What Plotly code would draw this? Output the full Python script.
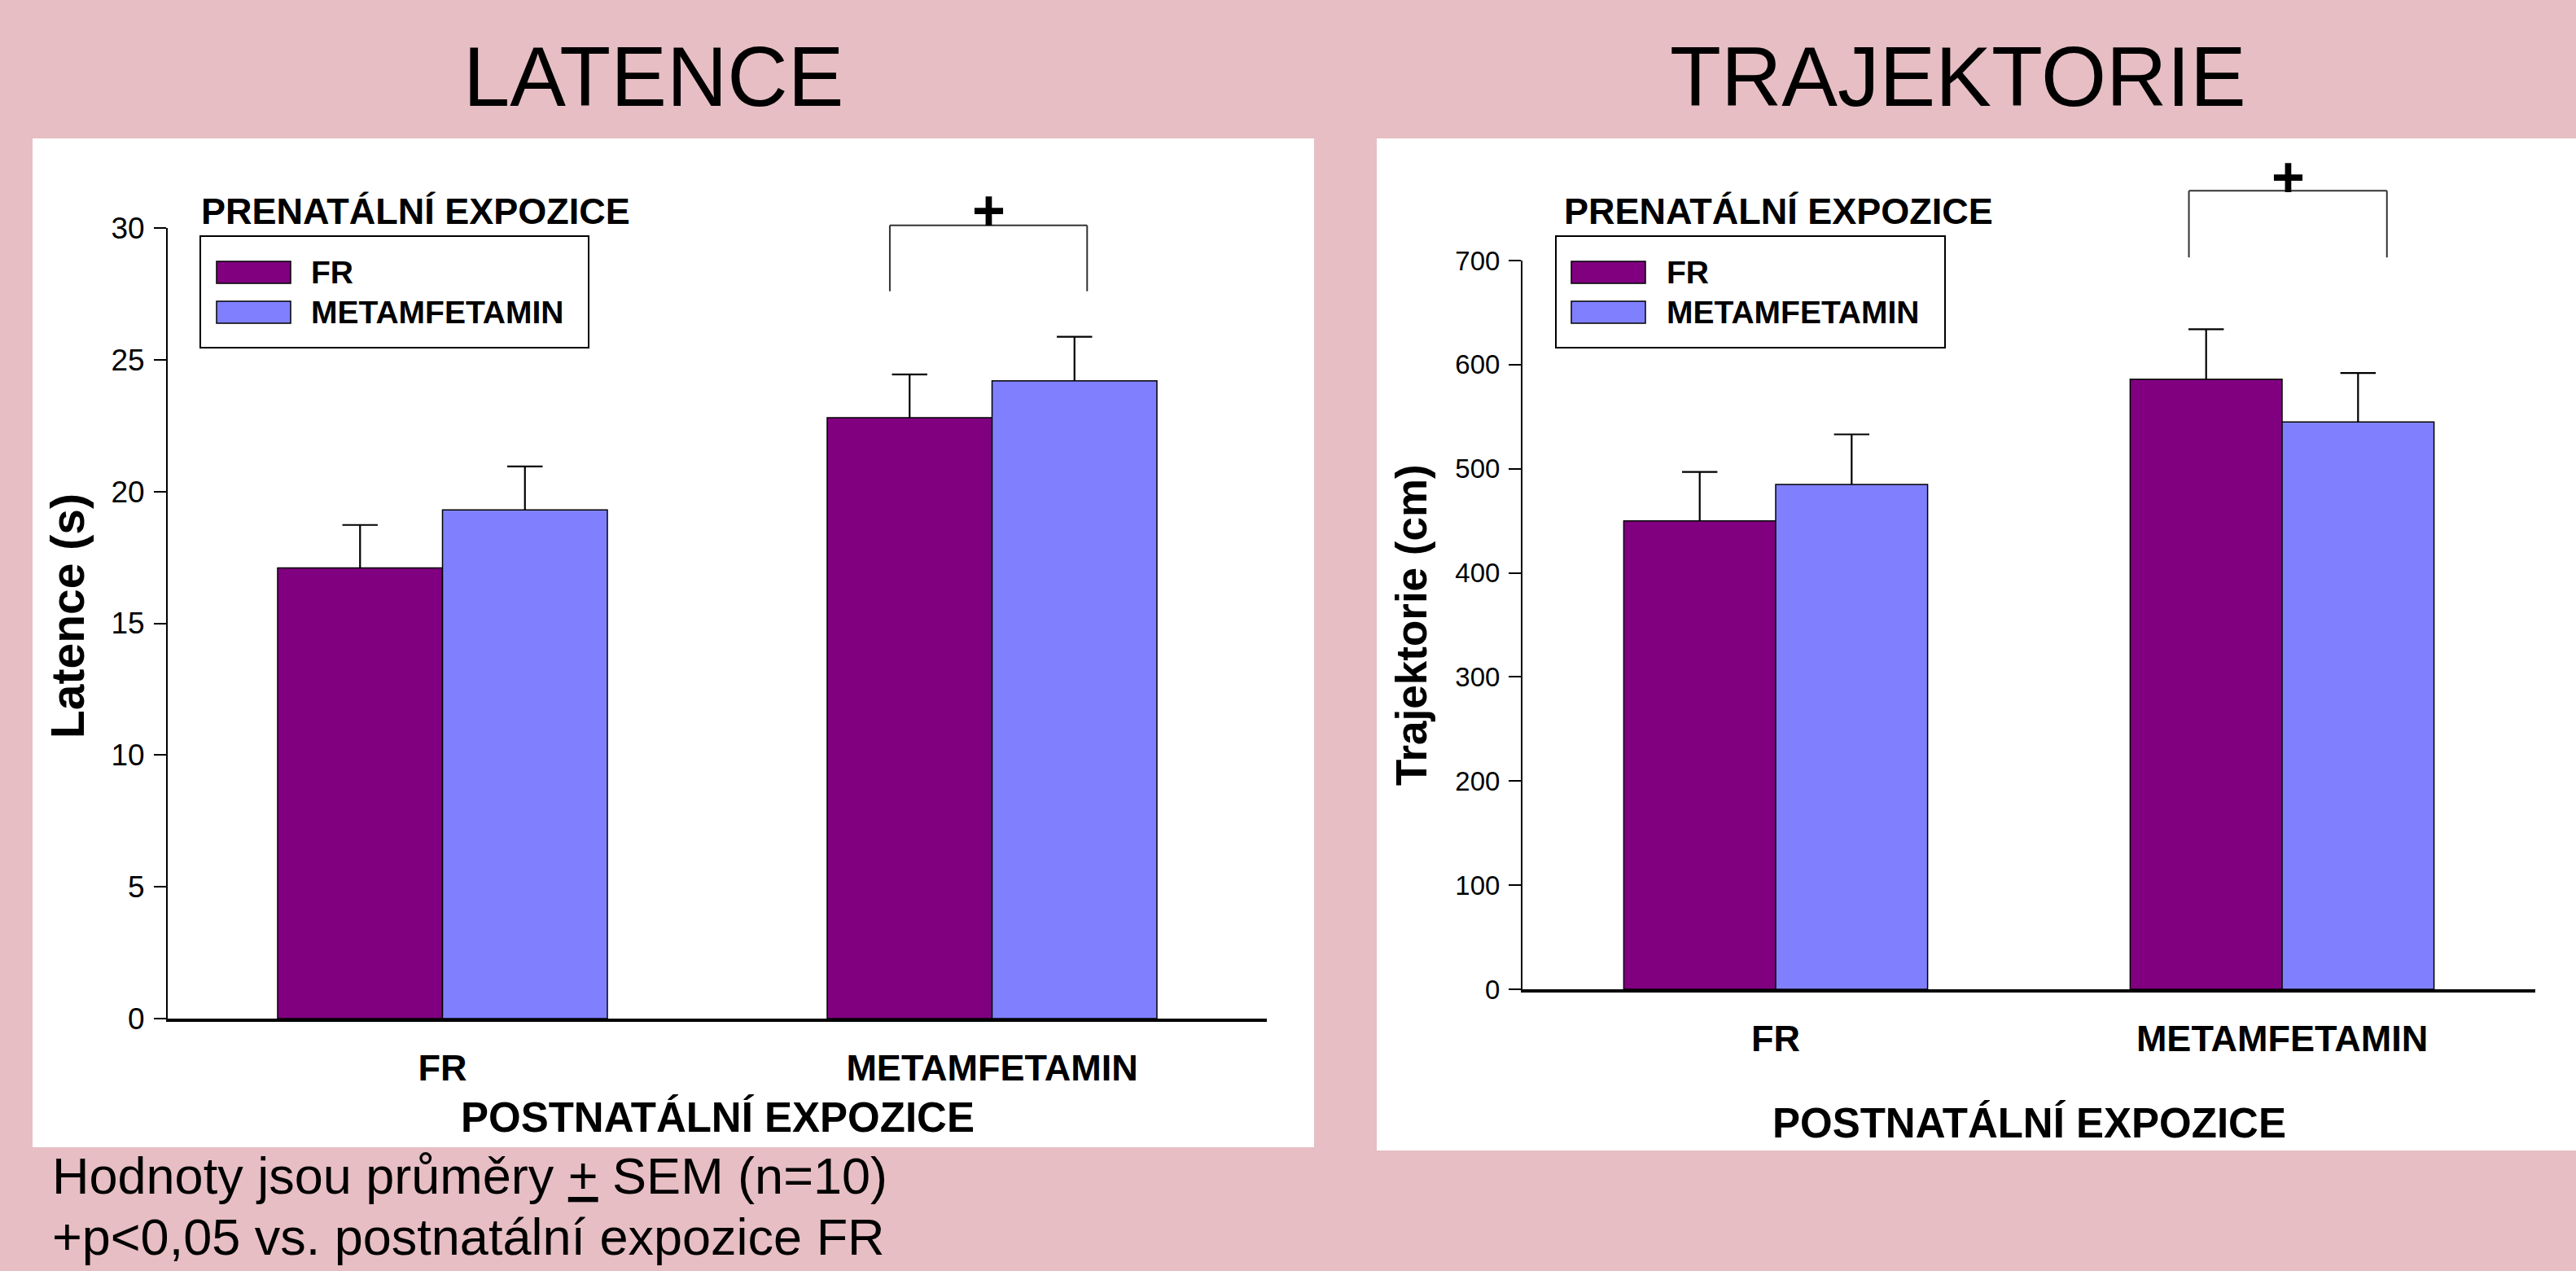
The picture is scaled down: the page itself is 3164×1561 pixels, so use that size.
import plotly.graph_objects as go

# ---------------- data ----------------
categories = ["FR", "METAMFETAMIN"]          # postnatální expozice (x)
series_names = ["FR", "METAMFETAMIN"]        # prenatální expozice (legend)

lat_fr = [17.1, 22.8]
lat_fr_sem = [1.63, 1.64]
lat_met = [19.3, 24.2]
lat_met_sem = [1.65, 1.67]

traj_fr = [450, 586]
traj_fr_sem = [47, 48]
traj_met = [485, 545]
traj_met_sem = [48, 47]

lat_ticks = [0, 5, 10, 15, 20, 25, 30]
traj_ticks = [0, 100, 200, 300, 400, 500, 600, 700]

# significance brackets (x in category units, y = leg bottom / top)
lat_bracket_x = [0.814, 1.173]
lat_bracket_y = [27.6, 30.1]
traj_bracket_x = [0.816, 1.207]
traj_bracket_y = [703, 767]

# ---------------- style ----------------
W, H = 3164, 1561
BG = "#E6BEC3"
C_FR = "#800080"
C_MET = "#8080FF"
FONT = "Liberation Sans, Arial, sans-serif"
XR = [-0.5, 1.5]
LAT_R = [0, 30]
TRAJ_R = [0, 700]
BARGAP = 0.4
HALF = (1 - BARGAP) / 4   # offset of each bar centre from the category centre


def fx(p):
    return p / W


def fy(p):
    return 1 - p / H


fig = go.Figure()

err = dict(type="data", symmetric=False, color="black", thickness=2.2, width=0)
pos = [0, 1]


def add_group(vals, sems, color, name, side, xa, ya):
    fig.add_trace(go.Bar(x=pos, y=vals, name=name, marker=dict(color=color, line=dict(color="black", width=1.5)),
                         error_y=dict(err, array=sems, arrayminus=[0] * len(sems)), xaxis=xa, yaxis=ya,
                         showlegend=False, hoverinfo="skip"))
    # error-bar caps (top only)
    fig.add_trace(go.Scatter(x=[p + side * HALF for p in pos], y=[v + s for v, s in zip(vals, sems)],
                             mode="markers", xaxis=xa, yaxis=ya, showlegend=False, hoverinfo="skip",
                             cliponaxis=False,
                             marker=dict(symbol="line-ew", size=31, line=dict(color="black", width=2.2))))


add_group(lat_fr, lat_fr_sem, C_FR, series_names[0], -1, "x", "y")
add_group(lat_met, lat_met_sem, C_MET, series_names[1], 1, "x", "y")
add_group(traj_fr, traj_fr_sem, C_FR, series_names[0], -1, "x2", "y2")
add_group(traj_met, traj_met_sem, C_MET, series_names[1], 1, "x2", "y2")

xcommon = dict(range=XR, tickvals=pos, ticktext=categories, showline=True, linewidth=4, linecolor="black",
               ticks="", showgrid=False, zeroline=False, fixedrange=True, automargin=False,
               tickfont=dict(family=FONT, size=45, color="black", weight="bold"), ticklabelstandoff=18)
ycommon = dict(showline=True, linewidth=2, linecolor="black", ticks="outside", ticklen=15, tickwidth=2,
               tickcolor="black", showgrid=False, zeroline=False, fixedrange=True, automargin=False)

fig.update_layout(
    template="none",
    width=W, height=H, autosize=False,
    margin=dict(l=0, r=0, t=0, b=0, pad=0, autoexpand=False),
    paper_bgcolor=BG, plot_bgcolor="white",
    barmode="group", bargap=BARGAP, bargroupgap=0,
    showlegend=False,
    font=dict(family=FONT, color="black"),
    xaxis=dict(xcommon, domain=[fx(206), fx(1556)], anchor="y"),
    yaxis=dict(ycommon, domain=[fy(1251), fy(280)], anchor="x", range=LAT_R, tickvals=lat_ticks,
               tickfont=dict(family=FONT, size=37, color="black"), ticklabelstandoff=4),
    xaxis2=dict(xcommon, domain=[fx(1870), fx(3114)], anchor="y2"),
    yaxis2=dict(ycommon, domain=[fy(1215), fy(320)], anchor="x2", range=TRAJ_R, tickvals=traj_ticks,
                tickfont=dict(family=FONT, size=33, color="black"), ticklabelstandoff=4),
)

shapes = []
# white panels
shapes.append(dict(type="rect", xref="paper", yref="paper", x0=fx(40), x1=fx(1614), y0=fy(1409), y1=fy(170),
                   fillcolor="white", line=dict(width=0), layer="below"))
shapes.append(dict(type="rect", xref="paper", yref="paper", x0=fx(1691), x1=fx(3164), y0=fy(1413), y1=fy(170),
                   fillcolor="white", line=dict(width=0), layer="below"))


def dom(v, r):
    return (v - r[0]) / (r[1] - r[0])


def bracket(xa, ya, bx, by, r):
    x0, x1 = dom(bx[0], XR), dom(bx[1], XR)
    yb, yt = dom(by[0], r), dom(by[1], r)
    ln = dict(color="#333333", width=2)
    out = []
    for (a, b, c, d) in [(x0, yb, x0, yt), (x0, yt, x1, yt), (x1, yt, x1, yb)]:
        out.append(dict(type="line", xref=xa + " domain", yref=ya + " domain", x0=a, y0=b, x1=c, y1=d, line=ln))
    return out


shapes += bracket("x", "y", lat_bracket_x, lat_bracket_y, LAT_R)
shapes += bracket("x2", "y2", traj_bracket_x, traj_bracket_y, TRAJ_R)

annotations = []


def txt(t, x, y, size, bold=False, xanchor="center", yanchor="middle", angle=0):
    annotations.append(dict(text=t, x=x, y=y, xref="paper", yref="paper", showarrow=False,
                            xanchor=xanchor, yanchor=yanchor, textangle=angle,
                            font=dict(family=FONT, size=size, color="black", weight="bold" if bold else "normal")))


# custom legends (title sits above the framed box)
for (bx0, bx1, sx0, sx1, lx, tx) in [(246, 723, 266, 357, 380, 245), (1911, 2389, 1930, 2021, 2045, 1919)]:
    shapes.append(dict(type="rect", xref="paper", yref="paper", x0=fx(bx0), x1=fx(bx1), y0=fy(427), y1=fy(290),
                       line=dict(color="black", width=2), fillcolor="rgba(0,0,0,0)"))
    for (cy0, cy1, col, name) in [(321, 348, C_FR, series_names[0]), (370, 397, C_MET, series_names[1])]:
        shapes.append(dict(type="rect", xref="paper", yref="paper", x0=fx(sx0), x1=fx(sx1), y0=fy(cy1), y1=fy(cy0),
                           fillcolor=col, line=dict(color="black", width=1.5)))
        txt(name, fx(lx), fy((cy0 + cy1) / 2), 39, bold=True, xanchor="left")
    txt("PRENATÁLNÍ EXPOZICE", fx(tx), fy(259), 45, bold=True, xanchor="left")

# titles
txt("LATENCE", fx(802), fy(95), 103)
txt("TRAJEKTORIE", fx(2405), fy(95), 103)
# axis titles
txt("Latence (s)", fx(83), fy(757), 57, bold=True, angle=-90)
txt("Trajektorie (cm)", fx(1733), fy(767), 53, bold=True, angle=-90)
txt("POSTNATÁLNÍ EXPOZICE", fx(881), fy(1372), 51, bold=True)
txt("POSTNATÁLNÍ EXPOZICE", fx(2492), fy(1379), 51, bold=True)
# significance marks
for (xa, bx, px_y) in [("x", lat_bracket_x, 259), ("x2", traj_bracket_x, 218)]:
    xd = dom((bx[0] + bx[1]) / 2, XR)
    annotations.append(dict(text="+", x=xd, y=fy(px_y), xref=xa + " domain", yref="paper", showarrow=False,
                            xanchor="center", yanchor="middle",
                            font=dict(family=FONT, size=70, color="black", weight="bold")))
# footnotes
txt("Hodnoty jsou průměry <u>+</u> SEM (n=10)", fx(62), fy(1444), 63, xanchor="left")
txt("+p<0,05 vs. postnatální expozice FR", fx(62), fy(1519), 63, xanchor="left")

fig.update_layout(shapes=shapes, annotations=annotations)

fig.write_html("out.html", config={"displayModeBar": False},
               post_script="document.body.style.margin='0';document.body.style.overflow='hidden';")
